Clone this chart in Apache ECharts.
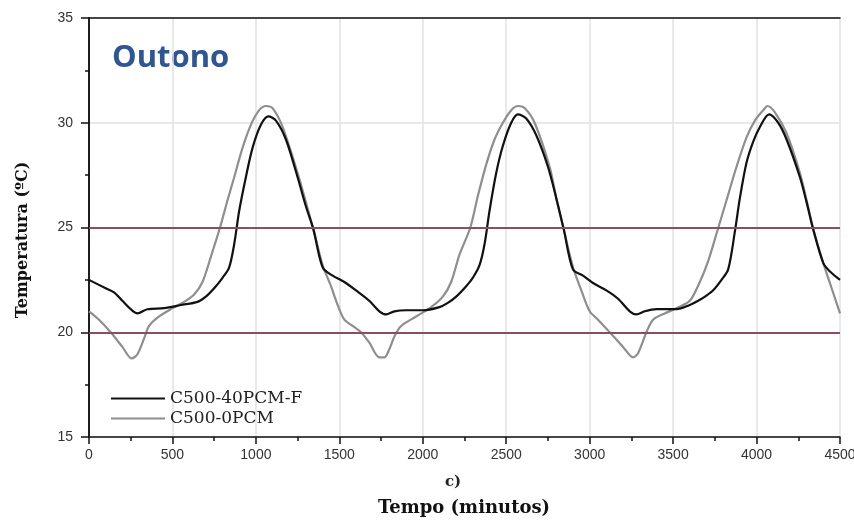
<!DOCTYPE html>
<html>
<head>
<meta charset="utf-8">
<title>Outono</title>
<script src="https://cdn.jsdelivr.net/npm/echarts@6/dist/echarts.min.js"></script>
<style>
  html, body { margin: 0; padding: 0; background: #fff; }
  #chart { width: 854px; height: 521px; }
</style>
</head>
<body>
<div id="chart"></div>
<script>
// eixos
var xTicks = [0, 500, 1000, 1500, 2000, 2500, 3000, 3500, 4000, 4500];
var yTicks = [15, 20, 25, 30, 35];
var limitLines = [20, 25];

// C500-40PCM-F (preto)
var pcmTime = [0, 100, 150, 200, 250, 290, 350, 450, 550, 650, 700, 750, 800, 840, 870, 900, 940, 980, 1030, 1075,
  1120, 1180, 1250, 1300, 1345, 1400, 1460, 1530, 1600, 1680, 1740, 1780, 1830, 1900, 2000, 2100, 2150, 2200, 2260, 2300,
  2340, 2370, 2400, 2440, 2480, 2530, 2570, 2620, 2680, 2750, 2800, 2845, 2900, 2960, 3020, 3100, 3170, 3240, 3280, 3330,
  3400, 3520, 3600, 3650, 3700, 3740, 3790, 3830, 3870, 3900, 3940, 3980, 4020, 4075, 4130, 4180, 4260, 4300, 4340, 4400,
  4440, 4500];
var pcmTemp = [22.5, 22.1, 21.9, 21.5, 21.1, 20.9, 21.1, 21.15, 21.3, 21.45, 21.7, 22.1, 22.6, 23.1, 24.2, 25.8, 27.4, 28.8, 29.9, 30.3,
  30.1, 29.2, 27.4, 26.0, 24.9, 23.1, 22.7, 22.4, 22.0, 21.5, 21.0, 20.85, 21.0, 21.05, 21.05, 21.2, 21.4, 21.7, 22.2, 22.6,
  23.2, 24.2, 25.8, 27.6, 28.9, 30.0, 30.4, 30.2, 29.4, 27.9, 26.4, 24.9, 23.0, 22.7, 22.35, 22.0, 21.6, 21.0, 20.85, 21.0,
  21.1, 21.1, 21.3, 21.5, 21.75, 22.0, 22.5, 23.0, 24.8, 26.4, 28.1, 29.1, 29.8, 30.4, 30.0, 29.2, 27.4, 26.2, 24.9, 23.3,
  22.9, 22.5];

// C500-0PCM (cinza)
var refTime = [0, 60, 130, 200, 256, 290, 330, 360, 410, 500, 580, 630, 680, 730, 785, 830, 870, 920, 970, 1020,
  1060, 1100, 1160, 1250, 1300, 1345, 1400, 1450, 1490, 1530, 1580, 1630, 1680, 1740, 1770, 1800, 1830, 1870, 1960, 2050,
  2120, 2170, 2220, 2285, 2330, 2380, 2430, 2480, 2530, 2570, 2610, 2670, 2760, 2800, 2845, 2900, 2950, 3000, 3050, 3120,
  3200, 3260, 3290, 3340, 3380, 3450, 3520, 3600, 3660, 3710, 3760, 3820, 3880, 3940, 3990, 4040, 4065, 4110, 4180, 4260,
  4300, 4340, 4400, 4450, 4500];
var refTemp = [21.0, 20.6, 20.0, 19.3, 18.75, 18.95, 19.7, 20.3, 20.7, 21.15, 21.5, 21.8, 22.4, 23.6, 25.0, 26.3, 27.4, 28.8, 29.9, 30.6,
  30.8, 30.7, 29.8, 27.6, 26.2, 24.9, 23.2, 22.2, 21.3, 20.6, 20.3, 20.0, 19.5, 18.8, 18.8, 19.2, 19.8, 20.3, 20.75, 21.2,
  21.7, 22.4, 23.7, 25.0, 26.5, 28.0, 29.2, 30.0, 30.6, 30.8, 30.7, 30.0, 27.9, 26.4, 24.9, 23.1, 22.0, 21.0, 20.6, 20.0,
  19.3, 18.8, 19.0, 20.0, 20.6, 20.9, 21.15, 21.5, 22.4, 23.4, 24.7, 26.3, 27.9, 29.3, 30.1, 30.6, 30.8, 30.5, 29.5, 27.6,
  26.3, 24.9, 23.3, 22.1, 20.9];

function pairs(t, v) {
  return t.map(function (x, i) { return [x, v[i]]; });
}

var frame = { color: '#111', width: 1.5 };

var myChart = echarts.init(document.getElementById('chart'));
myChart.setOption({
  animation: false,
  backgroundColor: '#fff',
  grid: {
    left: 89, right: 14, top: 18, bottom: 84,
    outerBoundsMode: 'none'
  },
  legend: {
    orient: 'vertical',
    left: 106, top: 384,
    itemWidth: 54, itemHeight: 2, itemGap: 1,
    textStyle: { fontFamily: 'DejaVu Serif', fontSize: 17, color: '#222', lineHeight: 19 },
    data: [{ name: 'C500-40PCM-F', icon: 'rect' }, { name: 'C500-0PCM', icon: 'rect' }]
  },
  xAxis: [{
    type: 'value',
    min: xTicks[0], max: xTicks[xTicks.length - 1], interval: 500,
    axisLine: { lineStyle: frame },
    axisTick: { length: 7, lineStyle: frame },
    minorTick: { show: true, splitNumber: 2, length: 4, lineStyle: frame },
    splitLine: { show: true, lineStyle: { color: '#e2e2e2', width: 1.5 } },
    axisLabel: {
      margin: 11, fontFamily: 'Liberation Sans', fontSize: 14, color: '#333',
      formatter: function (v) { return String(v); }
    }
  }, {
    type: 'value', position: 'top',
    min: xTicks[0], max: xTicks[xTicks.length - 1],
    axisLine: { show: true, lineStyle: frame },
    axisTick: { show: false }, axisLabel: { show: false }, splitLine: { show: false }
  }],
  yAxis: [{
    type: 'value',
    min: yTicks[0], max: yTicks[yTicks.length - 1], interval: 5,
    axisLine: { show: true, lineStyle: frame },
    axisTick: { show: true, length: 8, lineStyle: frame },
    minorTick: { show: true, splitNumber: 2, length: 4, lineStyle: frame },
    splitLine: { show: true, lineStyle: { color: '#e2e2e2', width: 1.5 } },
    axisLabel: { margin: 16, fontFamily: 'Liberation Sans', fontSize: 14, color: '#333' }
  }, {
    type: 'value', position: 'right',
    min: yTicks[0], max: yTicks[yTicks.length - 1],
    axisLine: { show: true, lineStyle: frame },
    axisTick: { show: false }, axisLabel: { show: false }, splitLine: { show: false }
  }],
  series: [
    {
      name: 'C500-40PCM-F',
      type: 'line',
      data: pairs(pcmTime, pcmTemp),
      showSymbol: false,
      smooth: 0.3,
      itemStyle: { color: '#111' },
      lineStyle: { color: '#111', width: 2.2 },
      z: 3,
      markLine: {
        silent: true,
        symbol: 'none',
        label: { show: false },
        lineStyle: { color: '#8f4a65', width: 2, type: 'solid' },
        data: limitLines.map(function (v) { return { yAxis: v }; })
      }
    },
    {
      name: 'C500-0PCM',
      type: 'line',
      data: pairs(refTime, refTemp),
      showSymbol: false,
      smooth: 0.3,
      itemStyle: { color: '#8e8e8e' },
      lineStyle: { color: '#8e8e8e', width: 2.2 },
      z: 2
    }
  ],
  graphic: [
    {
      type: 'text', left: 112, top: 43,
      style: { text: 'Outono', fontFamily: 'Open Sans', fontWeight: 'bold', fontSize: 31, fill: '#2f5597' }
    },
    {
      type: 'text', x: 453, y: 482,
      style: { text: 'c)', fontFamily: 'DejaVu Serif', fontWeight: 'bold', fontSize: 15, fill: '#222', textAlign: 'center', textVerticalAlign: 'middle' }
    },
    {
      type: 'text', x: 464, y: 508,
      style: { text: 'Tempo (minutos)', fontFamily: 'DejaVu Serif', fontWeight: 'bold', fontSize: 18, fill: '#111', textAlign: 'center', textVerticalAlign: 'middle' }
    },
    {
      type: 'text', x: 23, y: 240, rotation: Math.PI / 2,
      style: { text: 'Temperatura (ºC)', fontFamily: 'DejaVu Serif', fontWeight: 'bold', fontSize: 16, fill: '#111', textAlign: 'center', textVerticalAlign: 'middle' }
    }
  ]
});
</script>
</body>
</html>
